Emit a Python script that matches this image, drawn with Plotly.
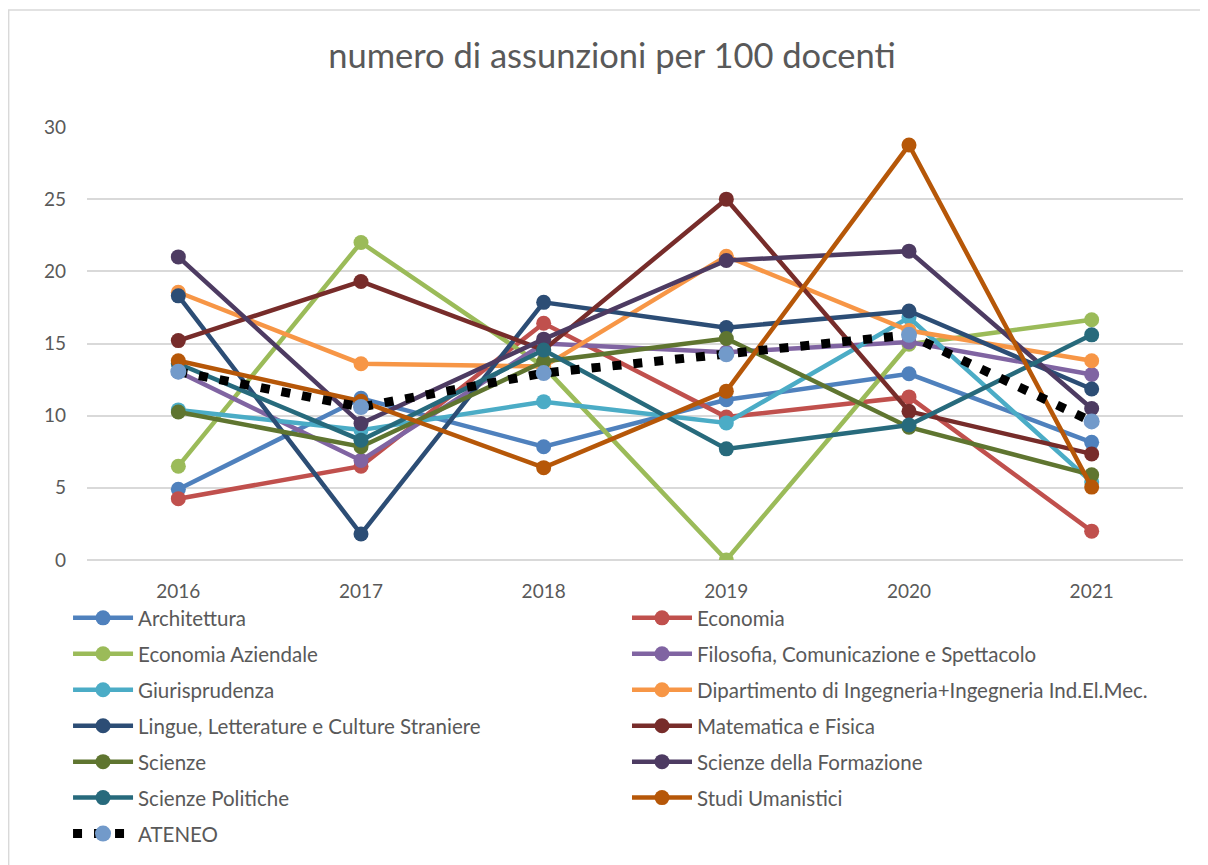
import plotly.graph_objects as go

years = ["2016", "2017", "2018", "2019", "2020", "2021"]

architettura = [4.9, 11.2, 7.85, 11.1, 12.9, 8.15]
economia = [4.25, 6.5, 16.4, 9.9, 11.3, 2.0]
economia_aziendale = [6.5, 22.0, 13.4, 0.0, 14.95, 16.65]
filosofia = [13.05, 6.9, 15.0, 14.4, 15.1, 12.85]
giurisprudenza = [10.4, 9.0, 10.97, 9.5, 16.8, 5.4]
ingegneria = [18.55, 13.6, 13.4, 21.05, 15.9, 13.8]
lingue = [18.3, 1.8, 17.85, 16.1, 17.25, 11.85]
matematica = [15.2, 19.3, 14.55, 25.0, 10.3, 7.35]
scienze = [10.25, 7.85, 13.75, 15.35, 9.2, 5.9]
scienze_formazione = [21.0, 9.45, 15.3, 20.75, 21.4, 10.5]
scienze_politiche = [13.6, 8.3, 14.55, 7.7, 9.35, 15.6]
studi_umanistici = [13.8, 11.0, 6.4, 11.7, 28.75, 5.05]
ateneo = [13.05, 10.6, 12.95, 14.25, 15.6, 9.6]

# (name, values, colour, legend column)
series = [
    ("Architettura", architettura, "#4F81BD", "legend"),
    ("Economia", economia, "#C0504D", "legend2"),
    ("Economia Aziendale", economia_aziendale, "#9BBB59", "legend"),
    ("Filosofia, Comunicazione e Spettacolo", filosofia, "#8064A2", "legend2"),
    ("Giurisprudenza", giurisprudenza, "#4BACC6", "legend"),
    ("Dipartimento di Ingegneria+Ingegneria Ind.El.Mec.", ingegneria, "#F79646", "legend2"),
    ("Lingue, Letterature e Culture Straniere", lingue, "#2C4D75", "legend"),
    ("Matematica e Fisica", matematica, "#772C2A", "legend2"),
    ("Scienze", scienze, "#5F7530", "legend"),
    ("Scienze della Formazione", scienze_formazione, "#4D3B62", "legend2"),
    ("Scienze Politiche", scienze_politiche, "#276A7C", "legend"),
    ("Studi Umanistici", studi_umanistici, "#B65708", "legend2"),
]

fig = go.Figure()
for name, vals, color, leg in series:
    fig.add_trace(go.Scatter(
        x=years, y=vals, name=name, mode="lines+markers",
        line=dict(color=color, width=4.5),
        marker=dict(color=color, size=15),
        legend=leg, legendgroup=name,
    ))

fig.add_trace(go.Scatter(
    x=years, y=ateneo, name="ATENEO", mode="lines+markers",
    line=dict(color="black", width=9, dash="9px,12px"),
    marker=dict(color="#729ACA", size=16),
    legend="legend", legendgroup="ATENEO",
))

font_family = "Lato, 'Open Sans', sans-serif"
grey = "#595959"
leg_font = dict(family=font_family, size=20.5, color=grey)

fig.update_layout(
    width=1208, height=865,
    margin=dict(l=79, r=33, t=119, b=313, autoexpand=False),
    paper_bgcolor="white", plot_bgcolor="white",
    title=dict(text="numero di assunzioni per 100 docenti", x=0.5, xref="container",
               xanchor="center", y=0.945, yanchor="middle",
               font=dict(family=font_family, size=34.5, color=grey)),
    font=dict(family=font_family, size=19, color=grey),
    xaxis=dict(type="category", range=[-0.5, 5.5], showgrid=False, showline=False,
               ticks="", tickfont=dict(size=19, color=grey), ticklabelstandoff=18),
    yaxis=dict(range=[0, 30], dtick=5, showgrid=True, gridcolor="#D9D9D9", gridwidth=1.5,
               zeroline=True, zerolinecolor="#D9D9D9", zerolinewidth=1.5,
               showline=False, ticks="", tickfont=dict(size=19, color=grey),
               ticklabelstandoff=20),
    legend=dict(orientation="v", x=-0.0173, xanchor="left", y=-0.0878, yanchor="top",
                itemwidth=60, font=leg_font, tracegroupgap=6.3,
                bgcolor="rgba(0,0,0,0)", traceorder="grouped"),
    legend2=dict(orientation="v", x=0.4927, xanchor="left", y=-0.0878, yanchor="top",
                 itemwidth=60, font=leg_font, tracegroupgap=6.3,
                 bgcolor="rgba(0,0,0,0)", traceorder="grouped"),
    showlegend=True,
)

fig.add_shape(type="rect", xref="paper", yref="paper",
              x0=-0.0715, x1=1.06, y0=-0.75, y1=1.27,
              line=dict(color="#D9D9D9", width=1.5), fillcolor="rgba(0,0,0,0)", layer="below")

fig.write_html("out.html")
